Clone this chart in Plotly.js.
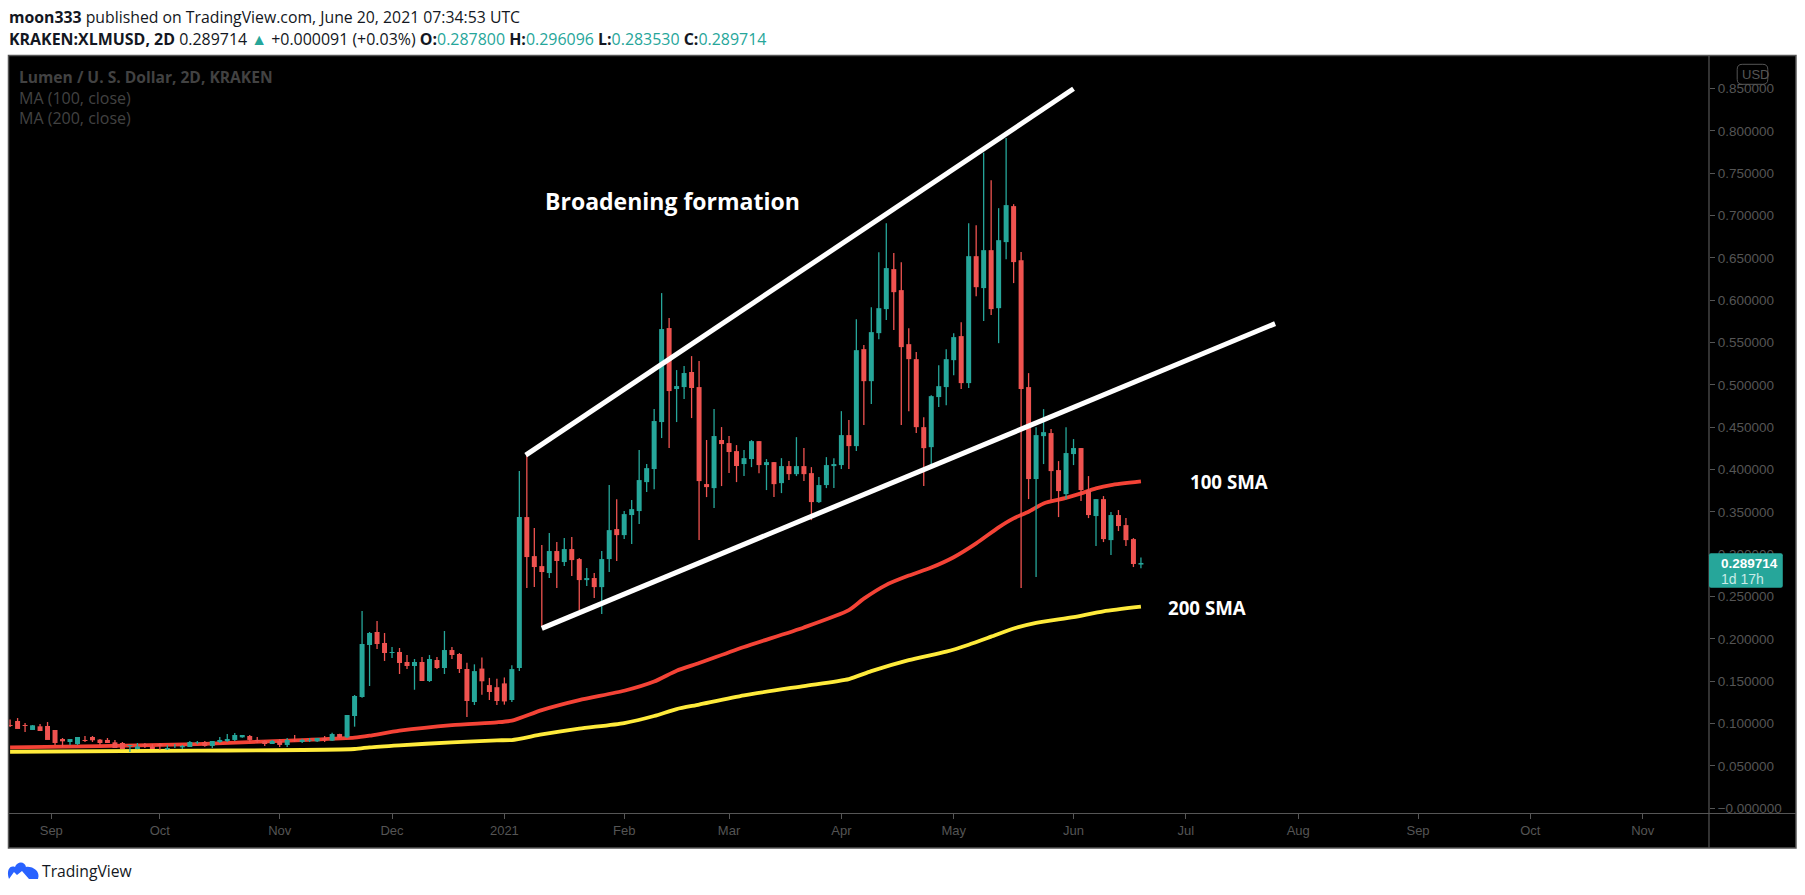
<!DOCTYPE html>
<html><head><meta charset="utf-8">
<script src="https://cdn.plot.ly/plotly-3.0.1.min.js"></script>
<style>html,body{margin:0;padding:0;background:#fff;overflow:hidden}#c{width:1805px;height:895px}</style>
</head><body><div id="c"></div>
<script>
// Bars are 2-day candles listed newest first (index 0 = last bar).
const lastBar = '2021-06-19';
const opens = [.2878,.3179,.3344,.3463,.3167,.3651,.3451,.3758,.4254,.4183,.371,.3994,.4431,.4395,.3888,.4974,.6473,.7111,.6686,.5906,.6591,.6143,.652,.5021,.5576,.5292,.4974,.4856,.4265,.4501,.5304,.5481,.6119,.6367,.5895,.5611,.5044,.5422,.4277,.4407,.4053,.4041,.3817,.3616,.3958,.4041,.3946,.4041,.384,.4088,.4053,.4336,.4124,.4065,.4218,.4313,.4349,.3781,.3829,.4974,.5152,.4974,.4951,.5671,.4561,.4006,.3852,.351,.3463,.3226,.3297,.2943,.2612,.2719,.2695,.2943,.3061,.2908,.3038,.2778,.286,.2978,.3439,.1656,.1279,.1475,.143,.1455,.165,.1255,.1645,.1822,.1869,.1657,.1751,.1503,.1728,.168,.1728,.1846,.1834,.1952,.2082,.1928,.1314,.109,.0838,.0877,.0799,.0826,.0791,.0799,.0783,.0807,.0748,.0795,.0759,.0795,.0807,.0854,.0838,.0807,.0795,.0783,.0736,.0783,.0775,.0724,.072,.0748,.0697,.0759,.073,.0756,.07,.0736,.0771,.0779,.0807,.0811,.0842,.0807,.0759,.0783,.0818,.0925,.0972,.0968,.0925,.0984,.1031,.0984];
const highs = [.296096,.3191,.3427,.3522,.3498,.3687,.3651,.3923,.4254,.436,.4501,.41,.4478,.4714,.4501,.5139,.6568,.7134,.7914,.7087,.7418,.774,.6886,.691,.5741,.5611,.5422,.5233,.4879,.4619,.5387,.567,.6449,.6556,.691,.6567,.5918,.547,.5776,.4584,.469,.4135,.4147,.3911,.4029,.4254,.4383,.41,.4135,.4088,.4124,.4336,.4348,.423,.4289,.4396,.4502,.4715,.4349,.5281,.534,.5222,.5175,.5789,.6084,.4715,.4065,.423,.364,.351,.3651,.3817,.3037,.2778,.2837,.2955,.3203,.3191,.3144,.325,.3108,.3309,.4159,.3982,.169,.1545,.153,.154,.178,.17,.172,.1834,.1905,.2094,.1787,.181,.1787,.1763,.181,.1893,.1905,.207,.2212,.2082,.233,.1338,.1102,.088,.0893,.0854,.083,.083,.0822,.0866,.083,.0818,.0807,.0807,.0842,.0866,.0866,.0889,.0878,.0842,.0795,.0795,.0795,.0795,.0748,.076,.0748,.0771,.0759,.0771,.0771,.0748,.0783,.0807,.083,.0818,.0854,.0854,.0842,.0807,.083,.0925,.1019,.0996,.0984,.1007,.1066,.105];
const lows = [.28353,.2849,.3097,.3274,.299,.3144,.3097,.3427,.3628,.4053,.3651,.3439,.364,.4065,.2731,.3651,.2601,.6202,.6485,.5493,.5824,.5753,.6048,.4962,.495,.5115,.4761,.4738,.4053,.3805,.4431,.469,.4525,.5647,.5765,.554,.4773,.4525,.4218,.4006,.4006,.3781,.3781,.3604,.3403,.3864,.3923,.3876,.3722,.3675,.3758,.3958,.4029,.3923,.3852,.3959,.3805,.3545,.3675,.3167,.4608,.4833,.4561,.4254,.4372,.3769,.3734,.3356,.312,.3179,.2919,.279,.2294,.2483,.2624,.2341,.2742,.286,.2601,.2719,.2144,.2612,.2601,.162,.1255,.1224,.122,.1279,.134,.122,.1078,.1598,.1763,.1586,.1645,.1492,.1503,.14,.1645,.1586,.1775,.174,.1881,.1444,.1305,.0964,.083,.083,.0795,.0783,.0783,.0783,.0771,.0783,.0724,.0724,.0759,.0736,.0771,.0783,.0834,.0795,.0783,.0771,.0712,.0728,.0756,.0724,.07,.0712,.069,.069,.0712,.0712,.0697,.0665,.07,.0748,.0771,.0748,.0783,.0783,.0748,.0748,.0724,.0748,.0878,.0948,.0925,.0901,.0948,.096];
const closes = [.289714,.2885,.3167,.3333,.3463,.3179,.3651,.3463,.3758,.4254,.4195,.3746,.3982,.4442,.4407,.3888,.495,.645,.7123,.6709,.5895,.6591,.6154,.652,.5021,.5564,.5304,.4985,.4867,.4253,.4501,.5304,.5446,.6095,.6379,.5906,.5623,.5044,.541,.4277,.4407,.4065,.4053,.3817,.3616,.3946,.4041,.3946,.4041,.3828,.4088,.4053,.4336,.4135,.4042,.4207,.4301,.4396,.3793,.3864,.4963,.514,.4986,.4927,.5659,.4573,.4017,.3876,.3533,.3474,.3226,.3285,.2943,.2612,.2719,.2695,.2931,.3061,.292,.3038,.279,.2849,.2967,.3439,.1644,.1262,.1267,.1373,.15,.162,.1267,.1645,.181,.1869,.1657,.1763,.1503,.1728,.168,.1716,.1846,.1834,.194,.207,.194,.1326,.1102,.0838,.0877,.0807,.083,.0807,.0807,.0799,.0807,.0748,.0795,.0759,.0795,.0807,.0866,.0866,.0818,.0807,.0795,.0736,.0783,.0783,.0736,.0748,.0712,.0736,.07,.074,.073,.0748,.07,.0712,.0771,.0771,.0803,.0795,.0842,.0818,.0791,.0771,.0807,.0913,.098,.0972,.0937,.0972,.1043];

// Moving averages, read at these bar offsets (bars back from the last bar).
const ma100Back = [151,139,126,112,105,103,99,92,86,84,80,75,69,65,62,59,53,45,39,37,34,31,28,25,22,19,17,15,13,10,8,6,4,0];
const ma100 = [.072,.0735,.0759,.0806,.0834,.0857,.0916,.0983,.1015,.1035,.116,.1278,.1388,.1497,.1625,.1715,.1905,.2136,.234,.2476,.2639,.2748,.2843,.2965,.3128,.3318,.3424,.3502,.36,.3665,.3719,.3778,.3817,.386];
const ma200Back = [151,126,105,103,99,92,86,84,80,75,69,65,62,59,53,45,39,36,31,26,23,20,17,14,9,5,0];
const ma200 = [.0668,.068,.07,.072,.0744,.0779,.0803,.0806,.0872,.094,.1007,.109,.1172,.1225,.1334,.1444,.1526,.162,.175,.185,.1932,.2027,.2123,.219,.2258,.2326,.2381];

// Hand-drawn trend lines
const upperLineX = ['2021-01-05 17:00','2021-06-01 00:00'];
const upperLineY = [.4171,.8497];
const lowerLineX = ['2021-01-10 00:00','2021-07-24 20:00'];
const lowerLineY = [.2125,.5724];

const monthTickDates = ['2020-09-01','2020-09-30','2020-11-01','2020-12-01','2020-12-31','2021-02-01','2021-03-01','2021-03-31','2021-04-30','2021-06-01','2021-07-01','2021-07-31','2021-09-01','2021-10-01','2021-10-31'];
const monthTickLabels = ['Sep','Oct','Nov','Dec','2021','Feb','Mar','Apr','May','Jun','Jul','Aug','Sep','Oct','Nov'];
const priceTicks = [0,.05,.1,.15,.2,.25,.3,.35,.4,.45,.5,.55,.6,.65,.7,.75,.8,.85];
const priceTickLabels = ['−0.000000','0.050000','0.100000','0.150000','0.200000','0.250000','0.300000','0.350000','0.400000','0.450000','0.500000','0.550000','0.600000','0.650000','0.700000','0.750000','0.800000','0.850000'];

const UP='#26a69a', DOWN='#ef5350', DIM='#555555', W=1805, H=895;
const L=9, R=1709.5, T=56, B=813;
const px=x=>(x-L)/(R-L), py=y=>(B-y)/(B-T);
const xRange=['2020-08-20 17:00','2021-11-17 17:00'], yRange=[-0.00555,.88838];
const bodyWidthMs=115000000;

function dateBack(n){const d=new Date(lastBar+'T00:00:00Z');d.setUTCDate(d.getUTCDate()-2*n);return d.toISOString().slice(0,10);}
const idx=opens.map((_,i)=>i);
const upIdx=idx.filter(i=>closes[i]>=opens[i]), downIdx=idx.filter(i=>closes[i]<opens[i]);
const body=(ids,color)=>({type:'bar',xaxis:'x2',yaxis:'y2',x:ids.map(dateBack),base:ids.map(i=>Math.min(opens[i],closes[i])),y:ids.map(i=>Math.abs(opens[i]-closes[i])),width:bodyWidthMs,marker:{color,line:{width:0}},hoverinfo:'skip'});
const wick=(ids,color)=>({type:'scatter',mode:'lines',xaxis:'x2',yaxis:'y2',x:ids.flatMap(i=>[dateBack(i),dateBack(i),null]),y:ids.flatMap(i=>[lows[i],highs[i],null]),connectgaps:false,line:{color,width:1.3},hoverinfo:'skip'});

const traces=[
 {type:'scatter',mode:'lines',x:ma200Back.map(dateBack),y:ma200,line:{color:'#ffeb3b',width:3.8,shape:'spline',smoothing:.6},hoverinfo:'skip'},
 {type:'scatter',mode:'lines',x:ma100Back.map(dateBack),y:ma100,line:{color:'#f44336',width:3.8,shape:'spline',smoothing:.6},hoverinfo:'skip'},
 body(upIdx,UP),body(downIdx,DOWN),wick(upIdx,UP),wick(downIdx,DOWN),
 {type:'scatter',mode:'lines',xaxis:'x2',yaxis:'y2',x:upperLineX,y:upperLineY,line:{color:'#ffffff',width:5},hoverinfo:'skip'},
 {type:'scatter',mode:'lines',xaxis:'x2',yaxis:'y2',x:lowerLineX,y:lowerLineY,line:{color:'#ffffff',width:5},hoverinfo:'skip'}
];

function rrect(x0,y0,x1,y1,r){
 const X=px,Y=py;
 return `M ${X(x0+r)} ${Y(y0)} L ${X(x1-r)} ${Y(y0)} Q ${X(x1)} ${Y(y0)} ${X(x1)} ${Y(y0+r)} L ${X(x1)} ${Y(y1-r)} Q ${X(x1)} ${Y(y1)} ${X(x1-r)} ${Y(y1)} L ${X(x0+r)} ${Y(y1)} Q ${X(x0)} ${Y(y1)} ${X(x0)} ${Y(y1-r)} L ${X(x0)} ${Y(y0+r)} Q ${X(x0)} ${Y(y0)} ${X(x0+r)} ${Y(y0)} Z`;
}
const P={xref:'paper',yref:'paper'};
const pline=(x0,y0,x1,y1)=>({...P,type:'line',x0:px(x0),y0:py(y0),x1:px(x1),y1:py(y1),line:{color:DIM,width:1.2},layer:'below'});
function cloud(){
 return `M ${px(9)} ${py(879)} C ${px(6)} ${py(870)} ${px(10)} ${py(865)} ${px(15)} ${py(867)} C ${px(17)} ${py(861)} ${px(25)} ${py(861)} ${px(26)} ${py(867)} C ${px(32)} ${py(866)} ${px(41)} ${py(871)} ${px(38)} ${py(879)} L ${px(29)} ${py(879)} L ${px(22)} ${py(871)} L ${px(17)} ${py(875)} L ${px(14)} ${py(872)} Z`;
}
const shapes=[
 {...P,type:'rect',x0:px(8.5),y0:py(55.5),x1:px(1796.5),y1:py(848),fillcolor:'#000000',line:{color:DIM,width:1.5},layer:'below'},
 pline(1709.5,55.5,1709.5,848),
 pline(8.5,813.5,1796.5,813.5),
 {...P,type:'path',path:rrect(1737.7,64.3,1768.3,84.3,5),line:{color:DIM,width:1},fillcolor:'rgba(0,0,0,0)',layer:'above'},
 {...P,type:'path',path:rrect(1709.5,553.3,1783.3,587.7,2),line:{width:0},fillcolor:UP,layer:'above'},
 {...P,type:'path',path:cloud(),line:{width:0},fillcolor:'#2962ff',layer:'above'}
];

const note=(x,y,text,size,color,font)=>({xref:'paper',yref:'paper',x:px(x),y:py(y),text,showarrow:false,xanchor:'left',yanchor:'middle',align:'left',borderpad:0,font:{size,color,family:font}});
const TXT='"Open Sans", sans-serif', HC='#131722', g=s=>`<span style="color:${UP}">${s}</span>`, LS='"Liberation Sans", sans-serif';
const annotations=[
 note(8,16.5,'<b>moon333</b> published on TradingView.com, June 20, 2021 07:34:53 UTC',15.8,HC,TXT),
 note(8,39,`<b>KRAKEN:XLMUSD, 2D</b> 0.289714 ${g('▲')} +0.000091 (+0.03%) <b>O:</b>${g('0.287800')} <b>H:</b>${g('0.296096')} <b>L:</b>${g('0.283530')} <b>C:</b>${g('0.289714')}`,15.95,HC,TXT),
 note(18,76.5,'<b>Lumen / U. S. Dollar, 2D, KRAKEN</b>',15.6,'#424242',TXT),
 note(18,98,'MA (100, close)',16,'#424242',TXT),
 note(18,118,'MA (200, close)',16,'#424242',TXT),
 note(544.5,201,'<b>Broadening formation</b>',23,'#ffffff',TXT),
 note(1189,482,'<b>100 SMA</b>',18.7,'#ffffff',TXT),
 note(1167,607,'<b>200 SMA</b>',18.7,'#ffffff',TXT),
 note(1741.5,74,'USD',13,DIM,LS),
 note(1721,563.5,'<b>0.289714</b>',13.5,'#ffffff',LS),
 note(1721,579,'1d 17h',14,'#c8ebe7',LS),
 note(41,871,'TradingView',15.7,'#131722',TXT)
];

const layout={
 width:W,height:H,autosize:false,showlegend:false,dragmode:false,hovermode:false,barmode:'overlay',
 paper_bgcolor:'#ffffff',plot_bgcolor:'rgba(0,0,0,0)',
 margin:{l:L,r:W-R,t:T,b:H-B,pad:0},
 xaxis:{type:'date',range:xRange,rangeslider:{visible:false},showgrid:false,zeroline:false,showline:false,
  tickmode:'array',tickvals:monthTickDates,ticktext:monthTickLabels,ticks:'outside',ticklen:5,tickcolor:DIM,tickwidth:1,tickfont:{size:13,color:DIM,family:LS}},
 yaxis:{side:'right',range:yRange,showgrid:false,zeroline:false,showline:false,
  tickmode:'array',tickvals:priceTicks,ticktext:priceTickLabels,ticks:'outside',ticklen:5,tickcolor:DIM,tickwidth:1,tickfont:{size:13.5,color:DIM,family:LS}},
 xaxis2:{type:'date',range:xRange,overlaying:'x',visible:false},
 yaxis2:{range:yRange,overlaying:'y',visible:false,side:'right'},
 shapes,annotations
};
Plotly.newPlot('c',traces,layout,{displayModeBar:false,staticPlot:true});
</script></body></html>
